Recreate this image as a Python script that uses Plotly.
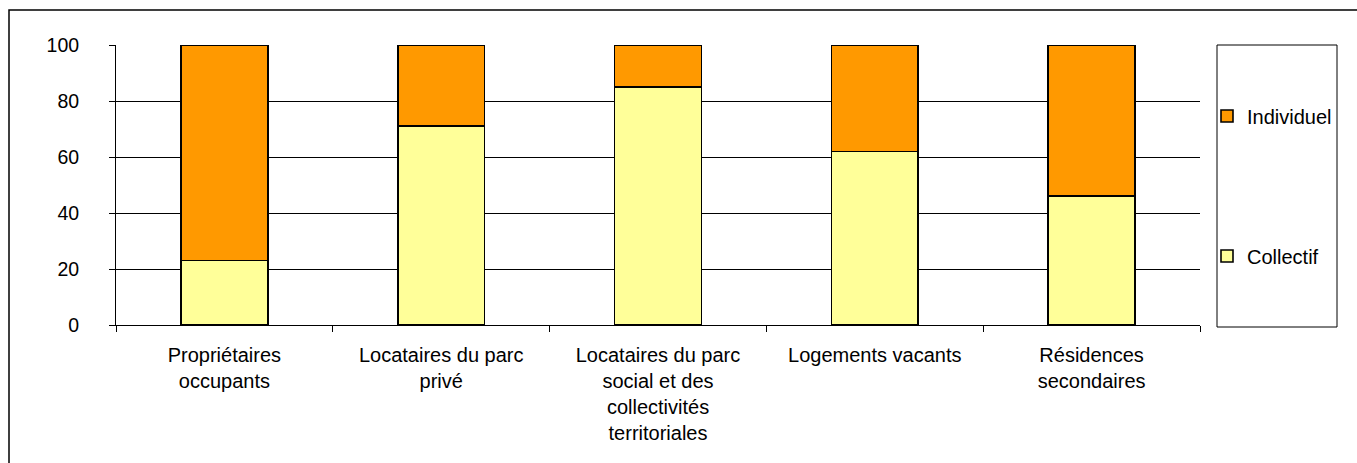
import plotly.graph_objects as go

categories = ["Propriétaires<br>occupants", "Locataires du parc<br>privé",
              "Locataires du parc<br>social et des<br>collectivités<br>territoriales",
              "Logements vacants", "Résidences<br>secondaires"]
collectif = [23, 71, 85, 62, 46]
individuel = [77, 29, 15, 38, 54]
y_ticks = [0, 20, 40, 60, 80, 100]

W, H = 1357, 463
L, R, T, B = 116, 157, 45, 138
pw, ph = W - L - R, H - T - B

def px(x):
    return (x - L) / pw

def py(y):
    return (H - B - y) / ph

fig = go.Figure()
fig.add_trace(go.Bar(x=categories, y=collectif, name="Collectif",
                     marker=dict(color="#FFFF99", line=dict(color="black", width=1.6)),
                     width=0.4, legend="legend2"))
fig.add_trace(go.Bar(x=categories, y=individuel, name="Individuel",
                     marker=dict(color="#FF9900", line=dict(color="black", width=1.6)),
                     width=0.4, legend="legend"))

fig.update_layout(
    width=W, height=H, barmode="stack",
    margin=dict(l=L, r=R, t=T, b=B),
    paper_bgcolor="white", plot_bgcolor="white",
    font=dict(family="Liberation Sans, Arial, sans-serif", size=19.5, color="black"),
    showlegend=True,
    legend=dict(x=px(1207), y=py(116), xanchor="left", yanchor="middle",
                bgcolor="rgba(0,0,0,0)", font=dict(size=20), itemwidth=30),
    legend2=dict(x=px(1207), y=py(256), xanchor="left", yanchor="middle",
                 bgcolor="rgba(0,0,0,0)", font=dict(size=20), itemwidth=30),
    xaxis=dict(showline=True, linecolor="black", linewidth=1, ticks="outside",
               tickson="boundaries", ticklen=6, tickcolor="black",
               ticklabelstandoff=12, showgrid=False, tickfont=dict(size=20)),
    yaxis=dict(range=[0, 100], tickvals=y_ticks, showline=True, linecolor="black",
               linewidth=1, ticks="outside", ticklen=6, tickcolor="black",
               ticklabelstandoff=26, showgrid=True, gridcolor="black", gridwidth=1,
               zeroline=False),
    shapes=[
        dict(type="rect", xref="paper", yref="paper",
             x0=px(9), x1=px(1362), y0=py(10), y1=py(470),
             line=dict(color="black", width=1.5), fillcolor="rgba(0,0,0,0)", layer="below"),
        dict(type="rect", xref="paper", yref="paper",
             x0=px(1217), x1=px(1337), y0=py(45), y1=py(327),
             line=dict(color="black", width=1), fillcolor="rgba(0,0,0,0)"),
    ],
)

fig.write_html("out.html", config={"displayModeBar": False},
               post_script="document.body.style.margin='0';document.body.style.overflow='hidden';")
